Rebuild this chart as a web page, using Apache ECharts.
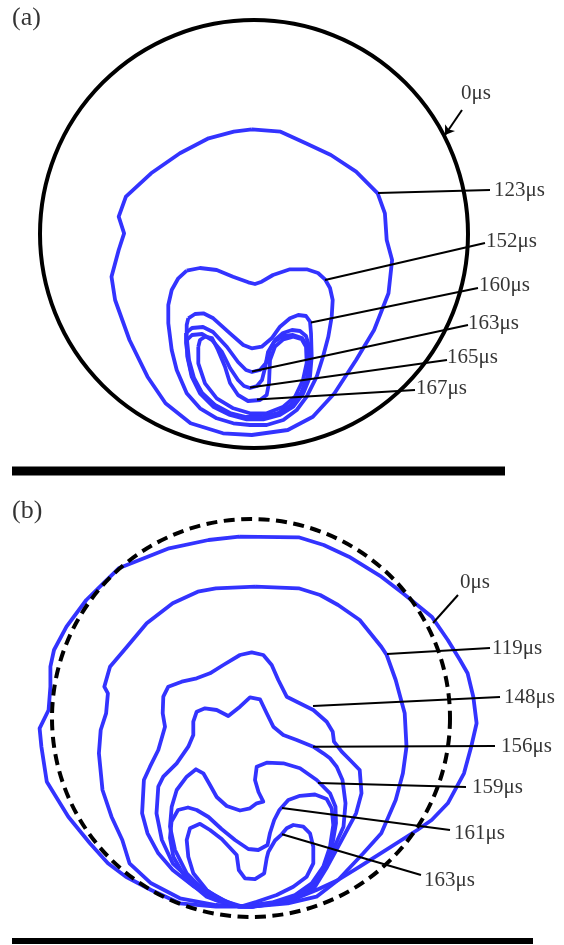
<!DOCTYPE html>
<html><head><meta charset="utf-8">
<script src="https://cdn.jsdelivr.net/npm/echarts@6/dist/echarts.min.js"></script>
<style>html,body{margin:0;padding:0;background:#fff}#c{width:564px;height:945px}</style>
</head><body><div id="c"></div>
<script>
// ---------- DATA (picture units: x to the right, y downward) ----------
// Initial droplet outlines (0 µs): centre x, centre y, radius
const circleA = [254, 234, 214];
const circleB = [251, 718, 199];
// Substrate lines
const substrateA = [[12, 471], [505, 471]];
const substrateB = [[12, 941], [533, 941]];

// Panel (a) contours
const a123 = [[251.8,129.3],[280.6,131.7],[305.8,143.3],[330.9,155],[356.1,171.7],[377.7,193.3],[384.9,213.3],[386.7,240],[392.1,260],[388.5,293.3],[374.1,330],[356.1,360],[334.5,393.3],[312.9,416.7],[287.8,430],[251.8,435],[223,433.3],[190.6,423.3],[165.5,403.3],[147.5,376.7],[129.5,340],[115.1,300],[111.5,276.7],[118.7,250],[124.1,233.3],[118.7,216.7],[125.9,196.7],[151.1,173.3],[179.9,153.3],[208.6,138.3],[233.8,131.7],[251.8,129.3]];
const a152 = [[186.7,270.7],[200,268],[216.7,270],[233,276.7],[248.3,282.3],[255,284],[261.7,281.7],[273,275],[290,269.3],[306.7,269.3],[318,273],[325,279.3],[330,288],[332.7,300],[331.7,316.7],[328.3,336.7],[323,356.7],[316.7,376.7],[306.7,396.7],[296.7,410],[283.3,420],[266.7,425],[250,425],[233.3,423.3],[216.7,418.3],[200,408.3],[186.7,393.3],[176.7,370],[171.7,350],[168.3,323.3],[168.3,305],[171.7,290],[178.3,278.3],[186.7,270.7]];
const a160 = [[188.3,318.3],[195,314],[203.3,313.3],[213.3,318.3],[230,333.3],[243.3,345],[251.7,348.3],[261.7,346.7],[271.7,338.3],[280,326.7],[290,318.3],[298.3,315],[306,316],[310,321.7],[311,333.3],[311.7,356.7],[310,376.7],[303.3,393.3],[293.3,406.7],[280,415],[263.3,419.3],[246.7,419.3],[230,415],[213.3,406.7],[200,393.3],[191.7,376.7],[187.3,356.7],[186.7,336.7],[186.7,325],[188.3,318.3]];
const a163 = [[186,333],[192,328],[203,327],[213,332],[227,347],[238,362],[246,370],[252,372],[260,370],[266,363],[270,350],[275,340],[283,333],[292,330],[300,331],[306,336],[309,346],[310,360],[308,378],[302,393],[292,405],[279,413],[263,418],[246,418],[230,414],[214,405],[201,392],[192,376],[188,358],[186,343],[186,333]];
const a165 = [[187,340],[192,335],[202,334],[212,340],[222,352],[230,368],[238,380],[244,386],[250,388],[257,386],[262,380],[265,368],[268,352],[274,342],[283,336],[293,335],[302,338],[307,346],[309,360],[307,378],[301,393],[291,405],[278,413],[262,417],[246,417],[230,413],[215,405],[202,393],[194,378],[189,360],[187,340]];
const a167 = [[198.3,346.7],[200,340],[205,336.7],[212,338],[218,350],[225,366.7],[230,383],[238,395],[248,401],[260,400],[266.7,395],[269,383],[270,360],[275,346.7],[283.3,339.3],[293.3,336.7],[301.7,339.3],[306,346.7],[306.7,363],[303,380],[295,396.7],[283.3,406.7],[266.7,413.3],[250,413.3],[233.3,408.3],[216.7,398.3],[205,383.3],[198.3,363.3],[198.3,346.7]];

// Panel (b) contours
const b0 = [[239.2,536.7],[298.6,537.3],[323.7,545],[348.9,556.7],[381.3,576.7],[402.9,593.3],[431.7,616.7],[447.8,640],[460,660],[467.6,673.3],[473.3,696.7],[476.6,723.3],[471.2,746.7],[464,773.3],[447.8,803.3],[431.7,820],[417.3,830],[388.5,848.3],[359.7,866.7],[338.1,880],[316.5,890],[287.8,901.7],[251.8,906.7],[215.8,906.7],[179.9,903.3],[151.1,890],[125.9,876.7],[107.9,863.3],[89.9,843.3],[68.3,816.7],[46.8,781.7],[41.4,746.7],[39.6,728.3],[48.6,710],[50.4,686.7],[50.4,666.7],[54,650],[66.5,626.7],[86.3,600],[103.3,583.3],[118.7,568.3],[169.1,548.3],[208.6,540],[239.2,536.7]];
const b119 = [[255.4,586.7],[298.6,588.3],[320.1,595],[338.1,605],[359.7,620],[381.3,646.7],[386.7,655],[395.7,680],[404.7,713.3],[406.5,746.7],[402.9,773.3],[395.7,800],[381.3,833.3],[363.3,853.3],[338.1,880],[316.5,896.7],[287.8,903.3],[251.8,906.7],[215.8,905],[179.9,898.3],[151.1,883.3],[129.5,863.3],[122.3,840],[111.5,816.7],[102.5,790],[98.9,753.3],[100.7,730],[106.1,713.3],[107.9,693.3],[104.3,686.7],[110,666.7],[127,646.7],[146.7,623.3],[172.7,603.3],[197.8,591.7],[215.8,588.3],[255.4,586.7]];
const b148 = [[239.2,906.7],[215.8,900],[194.2,886.7],[172.7,870],[158.3,853.3],[147.5,833.3],[142.1,813.3],[143.9,780],[150,766.7],[158.3,750],[165,726.7],[162.7,713.3],[163.3,696.7],[168.3,686.7],[181.7,681.7],[196.7,678.3],[210,673.3],[223.3,665],[240,655],[251.7,652.3],[263.3,655],[271.7,665],[278.3,680],[286.7,696.7],[296.7,701.7],[313.3,710],[326.7,721.7],[332.7,731.7],[334,741.7],[341.7,751.7],[350,760],[359.7,770],[361.5,793.3],[356.1,813.3],[341.7,840],[327.3,866.7],[313,890],[287.8,900],[251.8,906.7],[239.2,906.7]];
const b156 = [[239.2,906.7],[223,900],[194.2,883.3],[172.7,863.3],[161.9,840],[156.5,813.3],[158.3,786.7],[163.3,776.7],[176.7,763.3],[188.3,746.7],[193.3,735],[193.3,721.7],[196.7,711.7],[205,708.3],[216.7,710],[228.3,716],[240,706.7],[250,697.3],[260,699.3],[266.7,713.3],[273.3,726.7],[283.3,735],[296.7,740],[313.3,746.7],[323.3,753.3],[330,758.3],[336.7,766.7],[342.5,780],[345.5,803.3],[343.5,826.7],[334.5,846.7],[323.7,866.7],[313,886.7],[291.4,900],[251.8,906.7],[239.2,906.7]];
const b159 = [[243.3,906.7],[226.7,901.7],[203.3,890],[186.7,873.3],[175,850],[170,826.7],[171.7,806.7],[176.7,790],[186.7,776.7],[196,769.3],[203.3,773.3],[210,785],[216.7,797],[226.7,806],[240,810.5],[250,808.3],[256.7,803.3],[263.3,801.7],[258.5,792],[255,780],[256.7,766.7],[266.7,762.7],[283.3,763.3],[300,768.3],[316.7,780],[330,793.3],[335.5,806.7],[336,823.3],[332,846.7],[324,866.7],[313.3,883.3],[300,896.7],[276.7,903.3],[253.3,906.7],[243.3,906.7]];
const b161 = [[238,906.3],[218,901],[206.7,896.7],[186.7,880],[173.3,856.7],[170,838],[171.5,821.5],[178,810],[188,807.5],[196.7,810],[208.5,817],[221.5,829],[235,840],[248.3,849],[258.3,850],[267.5,845],[270,833],[274.2,820],[279.2,810.3],[288.3,800],[300,795.8],[315,794.5],[326.7,799],[331.7,808.3],[333.3,825],[330,846.7],[323.3,866.7],[311.7,883.3],[295,895],[272,902.5],[246.7,906],[238,906.3]];
const b163 = [[240,906.7],[223.3,901.7],[206.7,890],[193.3,873.3],[188.3,856.7],[186.7,840],[190,828.3],[200,823.8],[210,830],[221.7,839],[236.7,855],[238.8,870],[245,878.3],[255,879.2],[264.2,873.3],[266.7,858.3],[268.3,852],[275,840.5],[281.7,834.3],[286.7,828.3],[293.3,825],[303.3,826.7],[310,833.3],[313.3,846.7],[313.3,863.3],[306.7,876.7],[293.3,886.7],[276.7,895],[256.7,901.7],[240,906.7]];

// Labels: text, anchor x (left edge), anchor y (middle)
const panelLabels = [['(a)', 12, 18], ['(b)', 12, 511]];
const timeLabels = [
  ['0\u03bcs', 461, 93], ['123\u03bcs', 494, 190], ['152\u03bcs', 486, 241], ['160\u03bcs', 479, 285],
  ['163\u03bcs', 468, 323], ['165\u03bcs', 447, 357], ['167\u03bcs', 416, 388],
  ['0\u03bcs', 460, 582], ['119\u03bcs', 492, 648], ['148\u03bcs', 504, 697], ['156\u03bcs', 501, 746],
  ['159\u03bcs', 472, 787], ['161\u03bcs', 454, 833], ['163\u03bcs', 424, 880]
];
// Leader lines: [start, end]
const arrowLeaders = [[[462, 110], [445, 135]]];
const leaders = [
  [[378, 193], [490, 190]], [[325, 280], [485, 243]], [[311, 322.5], [478, 288]],
  [[252, 371.5], [468, 325]], [[250, 387.5], [447, 360]], [[257, 399.5], [415, 390]],
  [[458, 595], [433, 623]], [[387, 654], [490, 648]], [[313, 706], [500, 697]],
  [[313, 746.7], [495, 746]], [[318, 783], [466, 787]], [[282, 808], [450, 830]],
  [[282, 834.3], [421, 875]]
];

// ---------- CHART ----------
const BLUE = '#3333ff';
const FONT = "'Liberation Serif','Times New Roman',serif";
const chart = echarts.init(document.getElementById('c'), null, {renderer: 'canvas'});

function contour(data) {
  return {type: 'line', data: data, symbol: 'none', smooth: false, z: 3,
    lineStyle: {color: BLUE, width: 3.8, join: 'round'}, silent: true};
}
function circleSeries(c, dashed) {
  return {
    type: 'custom', coordinateSystem: 'cartesian2d', z: dashed ? 5 : 2, silent: true,
    data: [c], encode: {x: 0, y: 1},
    renderItem: function (params, api) {
      const p = api.coord([api.value(0), api.value(1)]);
      const r = api.size([api.value(2), 0])[0];
      return {type: 'circle', shape: {cx: p[0], cy: p[1], r: r},
        style: {fill: null, stroke: '#000', lineWidth: 4, lineDash: dashed ? [11, 6.5] : null}};
    }
  };
}

const series = [
  circleSeries(circleA, false),
  {type: 'line', data: substrateA, symbol: 'none', lineStyle: {color: '#000', width: 9}, z: 2},
  {type: 'line', data: substrateB, symbol: 'none', lineStyle: {color: '#000', width: 6}, z: 2},
  contour(a123), contour(a152), contour(a160), contour(a163), contour(a165), contour(a167),
  contour(b0), contour(b119), contour(b148), contour(b156), contour(b159), contour(b161), contour(b163),
  circleSeries(circleB, true),
  {type: 'lines', coordinateSystem: 'cartesian2d', z: 6, silent: true,
    data: leaders.map(l => ({coords: l})), symbol: 'none',
    lineStyle: {color: '#000', width: 2, opacity: 1}},
  {type: 'lines', coordinateSystem: 'cartesian2d', z: 6, silent: true,
    data: arrowLeaders.map(l => ({coords: l})), symbol: ['none', 'arrow'], symbolSize: 9,
    lineStyle: {color: '#000', width: 2, opacity: 1}},
  {type: 'scatter', z: 7, symbolSize: 0, silent: true,
    data: timeLabels.map(t => ({name: t[0], value: [t[1], t[2]]})),
    label: {show: true, position: 'right', distance: 0, formatter: '{b}', color: '#000',
      fontFamily: FONT, fontSize: 21, verticalAlign: 'middle'}},
  {type: 'scatter', z: 7, symbolSize: 0, silent: true,
    data: panelLabels.map(t => ({name: t[0], value: [t[1], t[2]]})),
    label: {show: true, position: 'right', distance: 0, formatter: '{b}', color: '#000',
      fontFamily: FONT, fontSize: 26, verticalAlign: 'middle'}}
];

chart.setOption({
  animation: false,
  backgroundColor: '#fff',
  grid: {left: 0, right: 0, top: 0, bottom: 0, containLabel: false},
  xAxis: {type: 'value', min: 0, max: 564, show: false},
  yAxis: {type: 'value', min: 0, max: 945, inverse: true, show: false},
  series: series
});
</script></body></html>
